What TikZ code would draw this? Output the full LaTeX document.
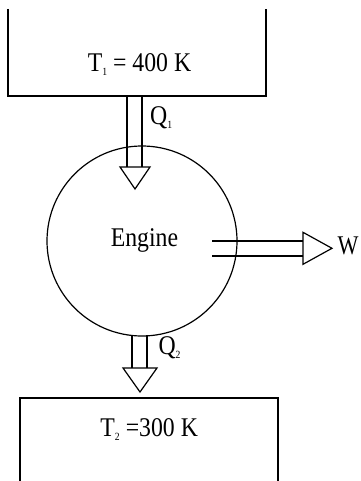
\documentclass[tikz,border=0pt]{standalone}
\usepackage{fontspec}
\setmainfont{Liberation Serif}
\newcommand\sx[1]{\scalebox{0.88}[1]{#1}}
\newcommand\sbs[1]{\raisebox{-4pt}{\fontsize{11}{11}\selectfont #1}}
\begin{document}
\begin{tikzpicture}[x=1pt,y=-1pt,
  ln/.style={line width=1.2pt, line join=miter},
  lbl/.style={inner sep=0pt, anchor=base, font=\fontsize{27}{28}\selectfont}]
\useasboundingbox (0,0) rectangle (360,481);
% reservoirs
\coordinate (hotTL) at (8,9);
\coordinate (hotTR) at (266,9);
\draw[ln] (hotTL) |- (266,96) -- (hotTR);
\coordinate (coldBL) at (20,481);
\coordinate (coldBR) at (278,481);
\draw[ln] (coldBL) |- (278,398) -- (coldBR);
% engine
\node[circle, draw, line width=1.2pt, minimum size=190pt, inner sep=0pt] (eng) at (142,241) {};
% labels
\node[lbl] (t1) at (139.5,71.7) {\sx{T\sbs{1} = 400 K}};
\node[lbl] (t2) at (149.2,436) {\sx{T\sbs{2} =300 K}};
\node[lbl] (en) at (144.4,246.7) {\sx{Engine}};
\node[lbl, anchor=base west] (w) at (337.5,254.3) {\scalebox{0.82}[1]{W}};
\node[lbl, anchor=base west] (q1) at (150,125) {\sx{Q\sbs{1}}};
\node[lbl, anchor=base west] (q2) at (158.3,354) {\sx{Q\sbs{2}}};
% Q1 arrow
\draw[ln] (127,96) -- (127,167);
\draw[ln] (142,96) -- (142,167);
\draw[ln] (120,167) -- (150,167) -- (135,189) -- cycle;
% Q2 arrow
\draw[ln] (132,335.5) -- (132,368);
\draw[ln] (147,335) -- (147,368);
\draw[ln] (123,368) -- (157,368) -- (140,392) -- cycle;
% W arrow
\draw[ln] (212,241) -- (303,241);
\draw[ln] (212,256) -- (303,256);
\draw[ln] (303,232.3) -- (303,264.3) -- (332,248.3) -- cycle;
\end{tikzpicture}
\end{document}
